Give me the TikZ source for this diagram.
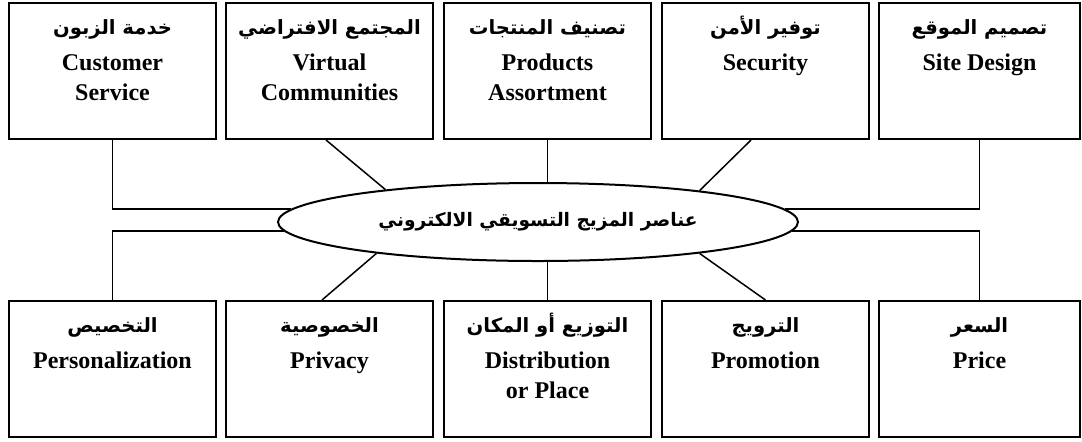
\documentclass[tikz,border=0pt]{standalone}
\usepackage{fontspec}
\setmainfont{Liberation Serif}
\newfontfamily\arfont[Script=Arabic]{DejaVu Sans}
\TeXXeTstate=1
\usetikzlibrary{shapes.geometric,calc}
\newcommand\bxt[3][103.5pt]{\parbox[c][68pt][t]{#1}{\centering\bfseries\fontsize{12}{15}\selectfont
\rule{0pt}{15.5pt}{\arfont\fontsize{9.8}{15}\selectfont\beginR #2\endR}\\[3pt]
#3}}
\begin{document}
\begin{tikzpicture}[x=0.5pt,y=-0.5pt,
  boxnode/.style={draw,line width=1pt,inner sep=0pt,minimum width=103.5pt,minimum height=68pt},
  lastbox/.style={boxnode,minimum width=100.5pt},
  link/.style={line width=0.75pt},
  hub/.style={draw,ellipse,line width=1pt,inner sep=0pt,minimum width=260pt,minimum height=39pt,fill=white}]
\useasboundingbox (0,0) rectangle (1082,441);
% top row
\node[boxnode] (b1) at (112.5,71) {\bxt{خدمة الزبون}{Customer\\Service}};
\node[boxnode] (b2) at (329.5,71) {\bxt{المجتمع الافتراضي}{Virtual\\Communities}};
\node[boxnode] (b3) at (547.5,71) {\bxt{تصنيف المنتجات}{Products\\Assortment}};
\node[boxnode] (b4) at (765.5,71) {\bxt{توفير الأمن}{Security}};
\node[lastbox] (b5) at (979.5,71) {\bxt[100.5pt]{تصميم الموقع}{Site Design}};
% bottom row
\node[boxnode] (b6) at (112.5,369) {\bxt{التخصيص}{Personalization}};
\node[boxnode] (b7) at (329.5,369) {\bxt{الخصوصية}{Privacy}};
\node[boxnode] (b8) at (547.5,369) {\bxt{التوزيع أو المكان}{Distribution\\or Place}};
\node[boxnode] (b9) at (765.5,369) {\bxt{الترويج}{Promotion}};
\node[lastbox] (b10) at (979.5,369) {\bxt[100.5pt]{السعر}{Price}};
% hub
\node[hub] (ell) at (538,222) {\arfont\bfseries\fontsize{9.3}{12}\selectfont\beginR عناصر المزيج التسويقي الالكتروني\endR};
% connectors
\draw[link] (b1.south) |- (ell.177);
\draw[link] (ell.182.3) -| (b6.north);
\draw[link] (b5.south) |- (ell.3);
\draw[link] (ell.-2.3) -| (b10.north);
\draw[link] (b3.south) -- (b3.south |- ell.north);
\draw[link] (b8.north |- ell.south) -- (b8.north);
\draw[link] ([xshift=-1.75pt]b2.south) -- (ell.168.1);
\draw[link] ([xshift=-7.25pt]b4.south) -- (ell.11.2);
\draw[link] (ell.191.2) -- ([xshift=-3.75pt]b7.north);
\draw[link] (ell.349.8) -- (b9.north);
\end{tikzpicture}
\end{document}
